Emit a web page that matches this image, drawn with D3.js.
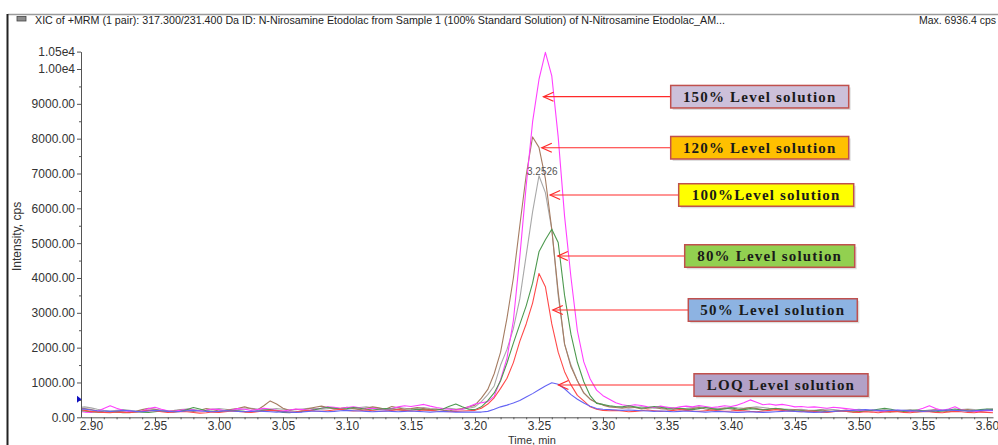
<!DOCTYPE html>
<html>
<head>
<meta charset="utf-8">
<script src="https://cdn.jsdelivr.net/npm/d3@7"></script>
<style>
  body { margin: 0; background: #fff; }
  svg { display: block; font-family: "Liberation Sans", Arial, sans-serif; }
</style>
</head>
<body>
<div id="chart"></div>
<script>
// retention time grid, min
const times = [
  2.890, 2.895, 2.900, 2.905, 2.910, 2.915, 2.920, 2.925, 2.930, 2.935,
  2.940, 2.945, 2.950, 2.955, 2.960, 2.965, 2.970, 2.975, 2.980, 2.985,
  2.990, 2.995, 3.000, 3.005, 3.010, 3.015, 3.020, 3.025, 3.030, 3.035,
  3.040, 3.045, 3.050, 3.055, 3.060, 3.065, 3.070, 3.075, 3.080, 3.085,
  3.090, 3.095, 3.100, 3.105, 3.110, 3.115, 3.120, 3.125, 3.130, 3.135,
  3.140, 3.145, 3.150, 3.155, 3.160, 3.165, 3.170, 3.175, 3.180, 3.185,
  3.190, 3.195, 3.200, 3.205, 3.210, 3.215, 3.220, 3.225, 3.230, 3.235,
  3.240, 3.245, 3.250, 3.255, 3.260, 3.265, 3.270, 3.275, 3.280, 3.285,
  3.290, 3.295, 3.300, 3.305, 3.310, 3.315, 3.320, 3.325, 3.330, 3.335,
  3.340, 3.345, 3.350, 3.355, 3.360, 3.365, 3.370, 3.375, 3.380, 3.385,
  3.390, 3.395, 3.400, 3.405, 3.410, 3.415, 3.420, 3.425, 3.430, 3.435,
  3.440, 3.445, 3.450, 3.455, 3.460, 3.465, 3.470, 3.475, 3.480, 3.485,
  3.490, 3.495, 3.500, 3.505, 3.510, 3.515, 3.520, 3.525, 3.530, 3.535,
  3.540, 3.545, 3.550, 3.555, 3.560, 3.565, 3.570, 3.575, 3.580, 3.585,
  3.590, 3.595, 3.600, 3.605
];

// intensities, cps
const level150 = [
  170, 150, 140, 170, 250, 330, 260, 200, 170, 150,
  180, 250, 290, 230, 190, 170, 200, 230, 210, 180,
  200, 240, 220, 190, 210, 250, 230, 200, 220, 260,
  240, 200, 180, 210, 240, 220, 200, 230, 260, 300,
  290, 260, 280, 300, 270, 240, 260, 230, 210, 250,
  300, 330, 310, 340, 370, 320, 280, 250, 230, 210,
  230, 300, 380, 420, 450, 600, 1080, 1700, 2780, 4600,
  6640, 8480, 9700, 10480, 9800, 8050, 5770, 4015, 2485, 1590,
  1100, 780, 620, 520, 420, 360, 330, 360, 340, 300,
  280, 320, 290, 260, 300, 320, 300, 340, 310, 280,
  300, 330, 310, 350, 420, 500, 430, 360, 380, 350,
  370, 340, 300, 310, 290, 300, 280, 260, 290, 270,
  250, 230, 200, 180, 200, 190, 170, 180, 200, 190,
  170, 200, 260, 330, 250, 200, 240, 300, 220, 180,
  160, 180, 200, 190
];
const level120 = [
  260, 250, 220, 180, 160, 150, 170, 160, 140, 170,
  220, 260, 230, 180, 160, 190, 210, 190, 170, 200,
  250, 220, 180, 200, 230, 260, 300, 250, 210, 330,
  470, 380, 260, 200, 230, 210, 250, 290, 320, 280,
  240, 260, 290, 250, 220, 260, 300, 270, 230, 310,
  270, 230, 250, 280, 250, 220, 240, 200, 190, 220,
  250, 300, 350, 550, 800, 1250, 1870, 2850, 4000, 5500,
  6950, 8050, 7750, 6850, 5400, 3600, 2100, 1450, 1050, 700,
  520, 420, 350, 300, 280, 260, 300, 280, 240, 260,
  290, 250, 230, 260, 240, 220, 250, 280, 240, 210,
  230, 260, 240, 210, 250, 280, 250, 220, 240, 260,
  230, 200, 220, 200, 180, 190, 210, 190, 170, 190,
  210, 180, 160, 180, 200, 180, 160, 150, 170, 190,
  170, 150, 170, 190, 210, 180, 160, 180, 200, 220,
  190, 170, 200, 220
];
const level100 = [
  280, 300, 270, 230, 200, 180, 200, 220, 200, 180,
  190, 210, 230, 210, 190, 200, 220, 240, 220, 200,
  210, 230, 250, 230, 210, 220, 240, 260, 240, 220,
  230, 250, 230, 210, 220, 240, 260, 250, 230, 250,
  270, 250, 230, 250, 280, 300, 270, 250, 230, 250,
  280, 260, 240, 260, 280, 250, 230, 240, 260, 240,
  230, 260, 300, 450, 650, 900, 1500, 1950, 2550, 3400,
  4650, 5900, 6936, 6450, 5400, 3500, 2100, 1500, 1050, 700,
  520, 420, 360, 320, 300, 280, 260, 280, 300, 280,
  260, 270, 290, 270, 250, 260, 280, 300, 280, 260,
  250, 270, 290, 270, 260, 280, 300, 280, 260, 250,
  240, 230, 220, 230, 210, 200, 220, 240, 220, 200,
  190, 210, 230, 210, 190, 200, 220, 200, 180, 200,
  220, 200, 190, 210, 230, 210, 190, 200, 220, 240,
  220, 200, 230, 250
];
const level80 = [
  200, 180, 160, 150, 140, 160, 150, 130, 140, 160,
  150, 140, 160, 180, 170, 150, 170, 220, 280, 240,
  190, 170, 160, 180, 200, 190, 170, 160, 180, 200,
  220, 180, 140, 130, 150, 170, 190, 220, 260, 290,
  260, 230, 250, 280, 260, 230, 210, 230, 250, 240,
  220, 200, 210, 230, 220, 200, 210, 240, 320, 380,
  300, 230, 220, 300, 480, 700, 1050, 1560, 2130, 2670,
  3200, 3850, 4750, 5100, 5400, 5020, 3500, 2380, 1580, 1020,
  620, 400, 370, 330, 310, 300, 330, 300, 260, 280,
  310, 290, 250, 230, 260, 240, 220, 250, 280, 250,
  220, 240, 270, 240, 220, 250, 230, 210, 230, 250,
  230, 210, 190, 180, 170, 190, 180, 160, 170, 190,
  170, 150, 160, 180, 200, 230, 260, 230, 190, 170,
  190, 210, 190, 170, 160, 180, 210, 240, 210, 180,
  190, 220, 240, 220
];
const level50 = [
  230, 200, 170, 150, 140, 130, 150, 140, 130, 150,
  170, 200, 190, 160, 140, 150, 170, 160, 140, 120,
  130, 150, 140, 160, 180, 170, 150, 140, 160, 180,
  200, 190, 170, 150, 160, 180, 200, 180, 170, 190,
  210, 230, 200, 180, 190, 210, 190, 170, 180, 200,
  220, 200, 180, 190, 210, 200, 180, 170, 160, 170,
  180, 190, 200, 260, 380, 560, 830, 1120, 1570, 2180,
  2680, 3280, 4130, 3750, 2680, 1870, 1310, 930, 630, 470,
  300, 230, 200, 190, 200, 180, 160, 170, 190, 210,
  190, 170, 180, 200, 220, 200, 180, 170, 190, 210,
  190, 170, 180, 200, 190, 170, 160, 180, 200, 220,
  200, 180, 170, 160, 180, 170, 150, 140, 160, 180,
  170, 150, 140, 160, 150, 130, 150, 170, 160, 140,
  130, 150, 170, 160, 140, 130, 150, 170, 160, 140,
  130, 150, 140, 130
];
const levelLOQ = [
  220, 240, 210, 190, 180, 170, 180, 200, 190, 170,
  160, 180, 200, 190, 170, 160, 170, 190, 200, 180,
  170, 160, 170, 190, 180, 170, 160, 170, 180, 170,
  160, 150, 160, 150, 140, 150, 170, 180, 170, 160,
  170, 190, 200, 190, 180, 170, 160, 170, 180, 170,
  160, 170, 180, 170, 160, 150, 160, 170, 160, 150,
  150, 150, 150, 150, 170, 230, 300, 350, 410, 480,
  580, 680, 790, 900, 990, 950, 820, 650, 520, 410,
  320, 250, 230, 220, 210, 200, 210, 200, 190, 180,
  170, 180, 170, 160, 170, 180, 170, 160, 150, 160,
  170, 160, 150, 140, 150, 160, 150, 140, 150, 160,
  170, 180, 170, 160, 150, 140, 150, 160, 170, 180,
  190, 200, 210, 220, 210, 200, 190, 200, 210, 200,
  190, 180, 170, 180, 190, 200, 210, 200, 190, 180,
  190, 200, 210, 200
];

// draw order: back to front
const seriesKeys = ["100", "120", "150", "80", "50", "LOQ"];
const seriesValues = [level100, level120, level150, level80, level50, levelLOQ];
const seriesColors = ["#a8a8a8", "#a57c62", "#ff40ff", "#4e9a50", "#ff4a4a", "#6464f4"];

// axis ticks
const yTicks = [0, 1000, 2000, 3000, 4000, 5000, 6000, 7000, 8000, 9000, 10000, 10500];
const xTicks = [2.90, 2.95, 3.00, 3.05, 3.10, 3.15, 3.20, 3.25, 3.30, 3.35, 3.40, 3.45, 3.50, 3.55, 3.60];

// peak apex label
const apexTime = 3.2526;
const apexValue = 6936;

// callouts: label, arrow tip (time, cps)
const calloutLabels = ["150% Level solution", "120% Level solution", "100%Level solution",
  "80% Level solution", "50% Level solution", "LOQ Level solution"];
const calloutTipTime = [3.2535, 3.2522, 3.2587, 3.2647, 3.2608, 3.2652];
const calloutTipValue = [9205, 7740, 6383, 4631, 3081, 927];
const calloutFills = ["#ccc0da", "#ffc000", "#ffff00", "#92d050", "#8db3e2", "#b2a1c7"];

const Chromatogram = {};

Chromatogram.draw = function() {
    const config = {
        width: 998,
        height: 445,
        left: 81,
        right: 993,
        top: 51.6,
        bottom: 417.3,
        // callout box layout (px)
        boxLeft: [670.7, 670.7, 678.7, 684.7, 688.3, 694],
        boxWidth: [178, 178, 175, 170, 169, 174],
        boxHeight: 22.5
    };

    const svg = d3.select('#chart')
        .append('svg')
        .attr('width', config.width)
        .attr('height', config.height);

    const x = d3.scaleLinear()
        .domain([2.8922, 3.6047])
        .range([config.left, config.right]);

    const y = d3.scaleLinear()
        .domain([0, 10500])
        .range([config.bottom, config.top]);

    // header strip
    svg.append('line')
        .attr('x1', 8).attr('x2', config.width)
        .attr('y1', 14.5).attr('y2', 14.5)
        .attr('stroke', '#9a9a9a').attr('stroke-width', 1.5);
    svg.append('line')
        .attr('x1', 7.5).attr('x2', 7.5)
        .attr('y1', 14).attr('y2', config.height)
        .attr('stroke', '#222').attr('stroke-width', 2);
    svg.append('rect')
        .attr('x', 17).attr('y', 16.5)
        .attr('width', 9).attr('height', 4.5)
        .attr('fill', '#8c8c8c').attr('stroke', '#444').attr('stroke-width', 0.8);
    svg.append('text')
        .attr('x', 35).attr('y', 23.5)
        .style('font-size', '10.7px')
        .attr('fill', '#222')
        .text('XIC of +MRM (1 pair): 317.300/231.400 Da ID: N-Nirosamine Etodolac from Sample 1 (100% Standard Solution) of N-Nitrosamine Etodolac_AM...');
    svg.append('text')
        .attr('x', 996).attr('y', 23.5)
        .attr('text-anchor', 'end')
        .style('font-size', '10.5px')
        .attr('fill', '#222')
        .text('Max. 6936.4 cps');

    // traces
    svg.append('clipPath').attr('id', 'plot-clip')
        .append('rect')
        .attr('x', config.left).attr('y', 0)
        .attr('width', config.right - config.left)
        .attr('height', config.bottom + 0.5);

    const line = d3.line()
        .x(d => x(d[0]))
        .y(d => y(d[1]));

    svg.append('g')
        .attr('clip-path', 'url(#plot-clip)')
        .selectAll('path')
        .data(seriesValues)
        .enter()
        .append('path')
        .attr('class', (d, i) => `trace level-${seriesKeys[i]}`)
        .attr('fill', 'none')
        .attr('stroke', (d, i) => seriesColors[i])
        .attr('stroke-width', 1.1)
        .attr('stroke-linejoin', 'round')
        .attr('d', vals => line(vals.map((v, i) => [times[i], v])));

    // axes
    const yAxis = svg.append('g')
        .attr('transform', `translate(${config.left},0)`)
        .call(d3.axisLeft(y)
            .tickValues(yTicks)
            .tickSize(4)
            .tickSizeOuter(0)
            .tickPadding(2)
            .tickFormat(v => v >= 10000 ? (v / 10000).toFixed(2) + 'e4' : v.toFixed(2)));

    svg.append('g')
        .attr('transform', `translate(${config.left},0)`)
        .call(d3.axisLeft(y)
            .tickValues(d3.range(500, 10000, 1000))
            .tickSize(2)
            .tickSizeOuter(0)
            .tickFormat(''))
        .select('.domain').remove();

    const xAxis = svg.append('g')
        .attr('transform', `translate(0,${config.bottom})`)
        .call(d3.axisBottom(x)
            .tickValues(xTicks)
            .tickSize(4)
            .tickSizeOuter(0)
            .tickPadding(0)
            .tickFormat(d3.format('.2f')));

    svg.append('g')
        .attr('transform', `translate(0,${config.bottom})`)
        .call(d3.axisBottom(x)
            .tickValues(d3.range(2.90, 3.605, 0.01))
            .tickSize(2)
            .tickSizeOuter(0)
            .tickFormat(''))
        .select('.domain').remove();

    svg.selectAll('.domain, .tick line').attr('stroke', '#555');
    [yAxis, xAxis].forEach(g => g.selectAll('text')
        .attr('fill', '#333')
        .style('font-size', '12px')
        .style('font-family', '"Liberation Sans", Arial, sans-serif'));

    svg.append('text')
        .attr('transform', `translate(21,${(config.top + config.bottom) / 2 + 2}) rotate(-90)`)
        .attr('text-anchor', 'middle')
        .style('font-size', '12px')
        .attr('fill', '#333')
        .text('Intensity, cps');

    svg.append('text')
        .attr('x', (config.left + config.right) / 2 - 5)
        .attr('y', 443.5)
        .attr('text-anchor', 'middle')
        .style('font-size', '11px')
        .attr('fill', '#333')
        .text('Time, min');

    // baseline marker
    svg.append('path')
        .attr('d', `M${config.left - 4},${y(520) - 3.5}L${config.left + 0.5},${y(520)}L${config.left - 4},${y(520) + 3.5}Z`)
        .attr('fill', '#1010c0');

    // apex label
    svg.append('text')
        .attr('x', x(apexTime))
        .attr('y', y(apexValue) - 1)
        .attr('text-anchor', 'middle')
        .style('font-size', '10px')
        .attr('fill', '#555')
        .text(apexTime.toFixed(4));

    // callouts
    const callouts = svg.append('g').attr('class', 'callouts');
    calloutLabels.forEach((label, i) => {
        const tx = x(calloutTipTime[i]);
        const ty = y(calloutTipValue[i]);
        const bx = config.boxLeft[i];
        const bw = config.boxWidth[i];
        const bh = config.boxHeight;
        const g = callouts.append('g');

        g.append('line')
            .attr('x1', tx).attr('x2', bx)
            .attr('y1', ty).attr('y2', ty)
            .attr('stroke', '#ff2a2a').attr('stroke-width', 1.2);
        g.append('path')
            .attr('d', `M${tx + 10},${ty - 4.5}L${tx},${ty}L${tx + 10},${ty + 4.5}`)
            .attr('fill', 'none')
            .attr('stroke', '#ff2a2a').attr('stroke-width', 1.2);

        g.append('rect')
            .attr('x', bx + 2).attr('y', ty - bh / 2 + 2)
            .attr('width', bw).attr('height', bh)
            .attr('fill', '#c8c8c8').attr('opacity', 0.6);
        g.append('rect')
            .attr('x', bx).attr('y', ty - bh / 2)
            .attr('width', bw).attr('height', bh)
            .attr('fill', calloutFills[i])
            .attr('stroke', '#c0504d').attr('stroke-width', 1.5);
        g.append('text')
            .attr('x', bx + bw / 2)
            .attr('y', ty + 5)
            .attr('text-anchor', 'middle')
            .style('font-family', '"Liberation Serif", "Times New Roman", serif')
            .style('font-weight', 'bold')
            .style('font-size', '15px')
            .style('letter-spacing', '1.2px')
            .attr('fill', '#1a1a1a')
            .text(label);
    });
};

document.addEventListener('DOMContentLoaded', function() {
    Chromatogram.draw();
});
</script>
</body>
</html>
